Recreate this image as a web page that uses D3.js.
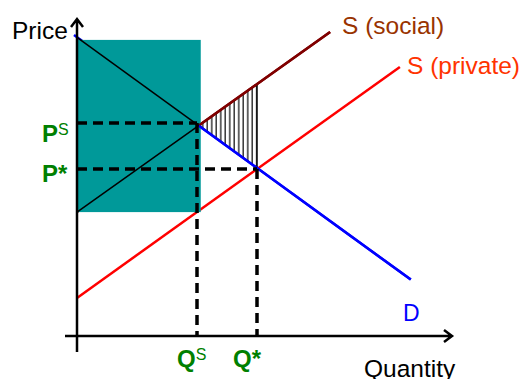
<!DOCTYPE html>
<html>
<head>
<meta charset="utf-8">
<script src="https://cdn.jsdelivr.net/npm/d3@7"></script>
<style>
  body { margin: 0; background: #fff; }
  text { font-family: "Liberation Sans", Arial, sans-serif; }
</style>
</head>
<body>
<div id="chart"></div>
<script>
// curves, in (quantity, price) units
var demand = [[-0.08, 10.03], [8.9, 1.88]];
var socialSupply = [[0, 4.13], [6.75, 10.13]];
var privateSupply = [[0, 1.27], [8.61, 8.97]];

// equilibria
var socialEq = { q: 3.2, p: 7.1 };
var marketEq = { q: 4.8, p: 5.57 };

// shaded block (quantity range, price range)
var blockQ = [0, 3.3];
var blockP = [4.13, 9.87];

var width = 522, height = 379;

var svg = d3.select("#chart").append("svg")
    .attr("width", width)
    .attr("height", height);

var x = d3.scaleLinear().domain([0, 10]).range([77, 452]);
var y = d3.scaleLinear().domain([0, 10]).range([336, 36]);

function at(line, q) {
    var a = line[0], b = line[1];
    return a[1] + (b[1] - a[1]) * (q - a[0]) / (b[0] - a[0]);
}

var path = d3.line()
    .x(function(d) { return x(d[0]); })
    .y(function(d) { return y(d[1]); });

// hatch pattern
svg.append("defs").append("pattern")
    .attr("id", "hatch")
    .attr("patternUnits", "userSpaceOnUse")
    .attr("x", x(blockQ[1]) + 1)
    .attr("width", 4.5)
    .attr("height", 10)
    .append("line")
    .attr("x1", 1).attr("x2", 1)
    .attr("y1", 0).attr("y2", 10)
    .attr("stroke", "#000")
    .attr("stroke-width", 1.2);

// coloured curves
svg.append("path").attr("d", path(privateSupply))
    .attr("stroke", "#ff0000").attr("stroke-width", 2.5).attr("fill", "none");
svg.append("path").attr("d", path(socialSupply))
    .attr("stroke", "#800000").attr("stroke-width", 2.5).attr("fill", "none");
svg.append("path").attr("d", path(demand))
    .attr("stroke", "#0000ff").attr("stroke-width", 2.5).attr("fill", "none");

// teal block
svg.append("rect")
    .attr("x", x(blockQ[0]))
    .attr("y", y(blockP[1]))
    .attr("width", x(blockQ[1]) - x(blockQ[0]))
    .attr("height", y(blockP[0]) - y(blockP[1]))
    .attr("fill", "#009999");

// thin black curves inside the block
[demand, socialSupply].forEach(function(line) {
    var q0 = blockQ[0], q1 = blockQ[1];
    svg.append("path")
        .attr("d", path([[q0, at(line, q0)], [q1, at(line, q1)]]))
        .attr("stroke", "#000").attr("stroke-width", 1.5).attr("fill", "none");
});

// hatched welfare-loss triangle
var qa = socialEq.q + 0.05, qb = marketEq.q;
var tri = [[qa, at(socialSupply, qa)], [qb, at(socialSupply, qb)], [qb, at(demand, qb)], [qa, at(demand, qa)]];
svg.append("path")
    .attr("d", path(tri) + "Z")
    .attr("fill", "url(#hatch)");
svg.append("line")
    .attr("x1", x(qb)).attr("x2", x(qb))
    .attr("y1", y(at(socialSupply, qb))).attr("y2", y(at(demand, qb)))
    .attr("stroke", "#000").attr("stroke-width", 1.5);

// redraw the curve edges of the triangle on top
svg.append("path").attr("d", path([[qa, at(socialSupply, qa)], socialSupply[1]]))
    .attr("stroke", "#800000").attr("stroke-width", 2.5).attr("fill", "none");
svg.append("path").attr("d", path([[qa, at(demand, qa)], demand[1]]))
    .attr("stroke", "#0000ff").attr("stroke-width", 2.5).attr("fill", "none");

// dashed guides
function dashed(x1, y1, x2, y2) {
    svg.append("line").attr("x1", x1).attr("y1", y1).attr("x2", x2).attr("y2", y2)
        .attr("stroke", "#000").attr("stroke-width", 3.5).attr("stroke-dasharray", "10,6");
}
dashed(x(0), y(socialEq.p), x(socialEq.q), y(socialEq.p));
dashed(x(socialEq.q), y(socialEq.p), x(socialEq.q), y(0));
dashed(x(0), y(marketEq.p), x(marketEq.q), y(marketEq.p));
dashed(x(marketEq.q), y(marketEq.p), x(marketEq.q), y(0));

// axes
svg.append("path")
    .attr("d", "M" + x(0) + ",352V19M" + (x(0) - 6) + ",27L" + x(0) + ",19L" + (x(0) + 6) + ",27")
    .attr("stroke", "#000").attr("stroke-width", 2.5).attr("fill", "none");
svg.append("path")
    .attr("d", "M65," + y(0) + "H452M444," + (y(0) - 6) + "L452," + y(0) + "L444," + (y(0) + 6))
    .attr("stroke", "#000").attr("stroke-width", 2.5).attr("fill", "none");

// labels
svg.append("text").attr("x", 12).attr("y", 39).attr("font-size", 24.5).text("Price");
svg.append("text").attr("x", 364).attr("y", 377).attr("font-size", 24.5).text("Quantity");
svg.append("text").attr("x", 342).attr("y", 34).attr("font-size", 24.5).attr("fill", "#993300").text("S (social)");
svg.append("text").attr("x", 407).attr("y", 74).attr("font-size", 24.5).attr("fill", "#ff3300").text("S (private)");
svg.append("text").attr("x", 403).attr("y", 321).attr("font-size", 23).attr("fill", "#0000ff").text("D");

function greenLabel(px, py, main, sup, star) {
    var t = svg.append("text").attr("x", px).attr("y", py)
        .attr("fill", "#008000").attr("font-weight", "bold").attr("font-size", 24);
    t.append("tspan").text(main);
    if (star) t.append("tspan").text("*");
    else t.append("tspan").attr("font-size", 16).attr("font-weight", "normal")
        .attr("dy", -7).text(sup);
}
greenLabel(42, y(socialEq.p) + 19, "P", "S", false);
greenLabel(42, y(marketEq.p) + 13, "P", "", true);
greenLabel(x(socialEq.q) - 20, 367, "Q", "S", false);
greenLabel(x(marketEq.q) - 24, 367, "Q", "", true);
</script>
</body>
</html>
